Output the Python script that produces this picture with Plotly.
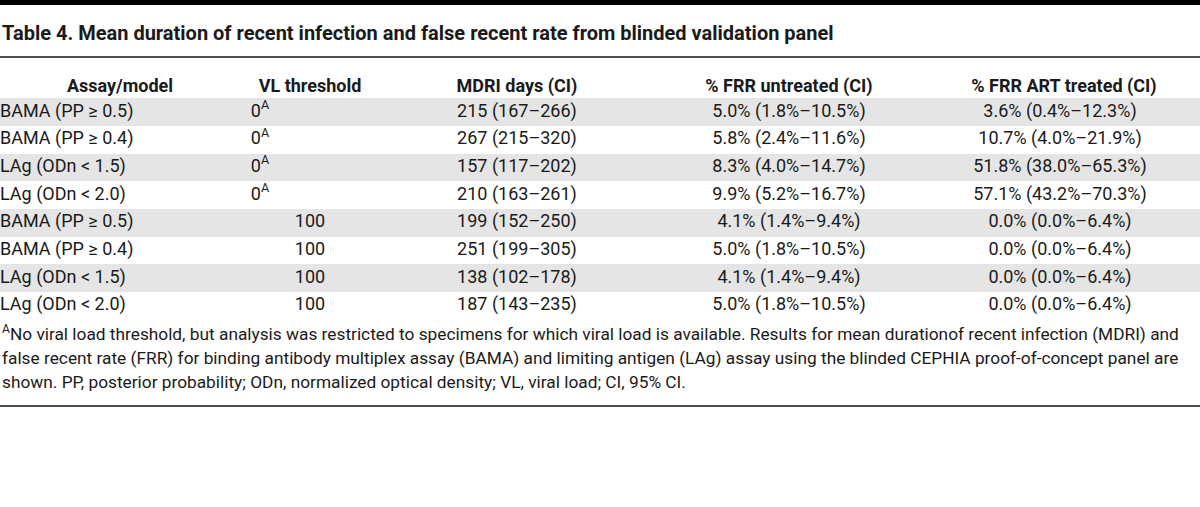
import plotly.graph_objects as go

# ---- data ----
title_text = "Table 4. Mean duration of recent infection and false recent rate from blinded validation panel"
headers = ["Assay/model", "VL threshold", "MDRI days (CI)", "% FRR untreated (CI)", "% FRR ART treated (CI)"]
assay_model = ["BAMA (PP ≥ 0.5)", "BAMA (PP ≥ 0.4)", "LAg (ODn < 1.5)", "LAg (ODn < 2.0)",
               "BAMA (PP ≥ 0.5)", "BAMA (PP ≥ 0.4)", "LAg (ODn < 1.5)", "LAg (ODn < 2.0)"]
vl_threshold = ["0<sup>A</sup>", "0<sup>A</sup>", "0<sup>A</sup>", "0<sup>A</sup>", "100", "100", "100", "100"]
mdri_days = ["215 (167–266)", "267 (215–320)", "157 (117–202)", "210 (163–261)",
             "199 (152–250)", "251 (199–305)", "138 (102–178)", "187 (143–235)"]
frr_untreated = ["5.0% (1.8%–10.5%)", "5.8% (2.4%–11.6%)", "8.3% (4.0%–14.7%)", "9.9% (5.2%–16.7%)",
                 "4.1% (1.4%–9.4%)", "5.0% (1.8%–10.5%)", "4.1% (1.4%–9.4%)", "5.0% (1.8%–10.5%)"]
frr_art = ["3.6% (0.4%–12.3%)", "10.7% (4.0%–21.9%)", "51.8% (38.0%–65.3%)", "57.1% (43.2%–70.3%)",
           "0.0% (0.0%–6.4%)", "0.0% (0.0%–6.4%)", "0.0% (0.0%–6.4%)", "0.0% (0.0%–6.4%)"]
footnotes = [
    "<sup>A</sup>No viral load threshold, but analysis was restricted to specimens for which viral load is available. Results for mean durationof recent infection (MDRI) and",
    "false recent rate (FRR) for binding antibody multiplex assay (BAMA) and limiting antigen (LAg) assay using the blinded CEPHIA proof-of-concept panel are",
    "shown. PP, posterior probability; ODn, normalized optical density; VL, viral load; CI, 95% CI.",
]

# ---- layout constants (pixels from top-left) ----
W, H = 1200, 507
FONT = "Roboto"
TXT = "#1a1a1a"
GRAY = "#e5e5e5"
RULE = "#4d4d4d"
ROW0, ROWH = 112, 27.7          # centre of first body row, row pitch
HEADER_Y = 87
TITLE_Y = 33
FOOT0, FOOTH = 333, 24.6
COL_X = [0, 310, 517, 789, 1060]
HEAD_X = [120, 310, 517, 789, 1064]
SUP_SHIFT = -50                 # the 0^A entries sit left of the column centre

n = len(assay_model)
row_y = [ROW0 + ROWH * i for i in range(n)]

fig = go.Figure()

# striped row backgrounds
gray_rows = [y for i, y in enumerate(row_y) if i % 2 == 0]
fig.add_trace(go.Bar(
    y=gray_rows, x=[W] * len(gray_rows), base=0, orientation="h", width=ROWH,
    marker=dict(color=GRAY, line=dict(width=0)), hoverinfo="skip", showlegend=False,
))

# header
fig.add_trace(go.Scatter(
    x=HEAD_X, y=[HEADER_Y] * len(headers), mode="text",
    text=[f"<b>{h}</b>" for h in headers], textposition="middle center",
    textfont=dict(family=FONT, size=18, color=TXT), hoverinfo="skip", showlegend=False,
))

# body columns
columns = [assay_model, vl_threshold, mdri_days, frr_untreated, frr_art]
for c, vals in enumerate(columns):
    if c == 0:
        xs = [COL_X[0]] * n
        pos = "middle right"
    elif c == 1:
        xs = [COL_X[1] + (SUP_SHIFT if "<sup>" in v else 0) for v in vals]
        pos = "middle center"
    else:
        xs = [COL_X[c]] * n
        pos = "middle center"
    fig.add_trace(go.Scatter(
        x=xs, y=row_y, mode="text", text=vals, textposition=pos,
        textfont=dict(family=FONT, size=18, color=TXT), hoverinfo="skip", showlegend=False,
    ))

shapes = [
    dict(type="rect", xref="paper", yref="y", x0=0, x1=1, y0=0, y1=5,
         fillcolor="black", line=dict(width=0), layer="above"),
    dict(type="line", xref="paper", yref="y", x0=0, x1=1, y0=57, y1=57,
         line=dict(color=RULE, width=2)),
    dict(type="line", xref="paper", yref="y", x0=0, x1=1, y0=406, y1=406,
         line=dict(color=RULE, width=2)),
]

annotations = [
    dict(text=f"<b>{title_text}</b>", x=0, y=TITLE_Y, xref="paper", yref="y",
         xanchor="left", yanchor="middle", showarrow=False,
         font=dict(family=FONT, size=20, color=TXT)),
]
for i, line in enumerate(footnotes):
    annotations.append(dict(text=line, x=0, y=FOOT0 + FOOTH * i, xref="paper", yref="y",
                            xanchor="left", yanchor="middle", showarrow=False,
                            font=dict(family=FONT, size=17.3, color=TXT)))

fig.update_layout(
    width=W, height=H,
    margin=dict(l=0, r=0, t=0, b=0),
    paper_bgcolor="white", plot_bgcolor="white",
    shapes=shapes, annotations=annotations,
    bargap=0,
    xaxis=dict(range=[0, W], visible=False, fixedrange=True),
    yaxis=dict(range=[H, 0], visible=False, fixedrange=True),
)

fig.write_html("out.html", config={"displayModeBar": False},
               post_script="document.body.style.margin='0';")
